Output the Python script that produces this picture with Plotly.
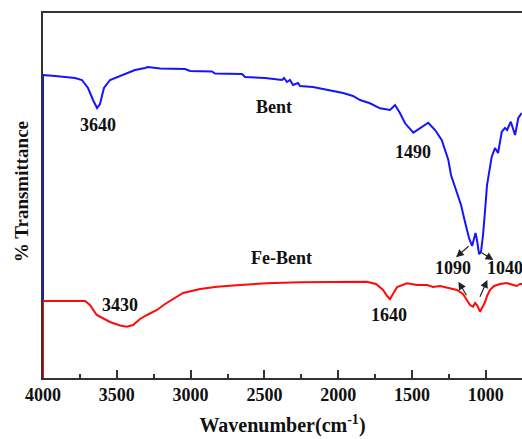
import plotly.graph_objects as go

# Bent spectrum (wavenumber, relative transmittance)
bent_wn = [4000, 4000, 3919, 3851, 3783, 3736, 3695, 3661, 3634, 3614, 3587, 3546, 3492, 3424,
           3377, 3309, 3289, 3207, 3038, 3004, 2855, 2835, 2652, 2631, 2496, 2381, 2367, 2347,
           2327, 2306, 2272, 2259, 2171, 2103, 2035, 1967, 1900, 1852, 1785, 1717, 1649, 1615,
           1581, 1547, 1491, 1446, 1390, 1344, 1299, 1254, 1236, 1202, 1168, 1141, 1114, 1093,
           1080, 1070, 1060, 1046, 1033, 1019, 1005, 992, 960, 938, 917, 892, 870, 856, 831,
           802, 780, 757]
bent_t = [77, 303, 302, 301, 300, 298, 290, 278, 270, 274, 290, 298, 301, 305,
          308, 310, 311, 309.5, 309, 307, 306.5, 304.5, 304, 301, 300, 298, 300, 296,
          298, 293, 295, 292, 291, 289, 287, 285, 282, 278, 274.7, 269.7, 268, 273,
          264.7, 254.7, 245.3, 249.7, 255.3, 248, 238, 218, 203, 188, 173, 156, 140, 132,
          138, 145, 138, 124, 126, 143, 168, 193, 221.3, 230, 225, 246.3, 250, 248, 256.3,
          243, 260, 265]

# Fe-Bent spectrum
fe_wn = [4000, 4000, 3715, 3682, 3636, 3546, 3478, 3433, 3390, 3343, 3295, 3228, 3173, 3119,
         3051, 2936, 2821, 2665, 2482, 2259, 2035, 1807, 1744, 1696, 1669, 1649, 1629, 1601,
         1534, 1466, 1398, 1358, 1310, 1243, 1195, 1155, 1127, 1107, 1087, 1073, 1060, 1039,
         1019, 1005, 992, 972, 944, 904, 859, 822, 791, 768, 755]
fe_t = [0, 77, 77, 73, 63, 56, 52.5, 51.3, 53, 59, 63, 68, 74, 79,
        85, 89, 91.3, 93, 94.7, 95.7, 96.3, 96.3, 94, 88, 82, 79, 84, 91,
        94.7, 93, 93, 91, 92, 90, 88, 84, 78, 73, 71.3, 75, 73, 66.3,
        72, 76, 82, 88, 92, 94, 95, 93, 92, 94, 94]

# Labels: (text, x, y)
labels = [("3640", 3627, 253), ("Bent", 2435, 271), ("1490", 1493, 226),
          ("Fe-Bent", 2381, 120), ("3430", 3478, 73), ("1640", 1656, 63),
          ("1090", 1222, 110), ("1040", 870, 110)]

# Arrows: (head_x, head_y, tail_x, tail_y)
arrows = [(1202, 120.7, 1107, 133), (949, 118, 1039, 126.3),
          (1186, 96.3, 1125, 81.3), (990, 98, 1044, 79.7)]

FONT = "Liberation Serif"

fig = go.Figure()
fig.add_trace(go.Scatter(x=bent_wn, y=bent_t, mode="lines", name="Bent",
                         line=dict(color="rgb(20,20,255)", width=2)))
fig.add_trace(go.Scatter(x=fe_wn, y=fe_t, mode="lines", name="Fe-Bent",
                         line=dict(color="rgb(255,10,10)", width=2)))

anns = []
for t, x, y in labels:
    anns.append(dict(text="<b>%s</b>" % t, x=x, y=y, xref="x", yref="y", showarrow=False,
                     font=dict(family=FONT, size=18, color="#111")))
for hx, hy, tx, ty in arrows:
    anns.append(dict(text="", x=hx, y=hy, ax=tx, ay=ty, xref="x", yref="y",
                     axref="x", ayref="y", showarrow=True, arrowhead=2, arrowsize=1.3,
                     arrowwidth=1.2, arrowcolor="#222"))
anns.append(dict(text="<b>% Transmittance</b>", xref="paper", yref="paper",
                 x=(21.7 - 43) / 479, y=(378 - 191.5) / 365, textangle=-90,
                 xanchor="center", yanchor="middle",
                 showarrow=False, font=dict(family=FONT, size=19, color="#111")))

fig.update_layout(
    width=522, height=439,
    margin=dict(l=43, r=0, t=13, b=61),
    paper_bgcolor="white", plot_bgcolor="white",
    showlegend=False,
    annotations=anns,
    xaxis=dict(range=[4000, 755], showgrid=False, zeroline=False,
               showline=True, linecolor="#333", linewidth=1.5, mirror=True,
               ticks="inside", ticklen=8, tickwidth=1.5, tickcolor="#333",
               dtick=500, tick0=0,
               minor=dict(ticks="inside", ticklen=4, tickwidth=1.5, tickcolor="#333", dtick=250),
               tickfont=dict(family=FONT, size=18, color="#111"),
               tickprefix="<b>", ticksuffix="</b>",
               title=dict(text="<b>Wavenumber(cm<sup>-1</sup>)</b>", standoff=14,
                          font=dict(family=FONT, size=20, color="#111"))),
    yaxis=dict(range=[0, 365], showgrid=False, zeroline=False, showticklabels=False,
               showline=True, linecolor="#333", linewidth=1.5, ticks=""),
)

fig.write_html("out.html")
